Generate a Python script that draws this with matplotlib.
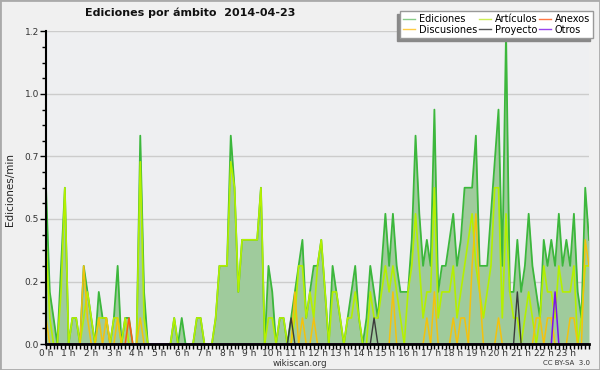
import numpy as np
import matplotlib.pyplot as plt
from matplotlib.ticker import MultipleLocator, FixedLocator

# edits per minute, 10 minute slots from 0:00 to 24:00
ediciones = [0.6, 0.2, 0.1, 0.0, 0.3, 0.6,
             0.0, 0.1, 0.1, 0.0, 0.3, 0.2,
             0.1, 0.0, 0.2, 0.1, 0.1, 0.0,
             0.1, 0.3, 0.0, 0.1, 0.1, 0.0,
             0.0, 0.8, 0.2, 0.0, 0.0, 0.0,
             0.0, 0.0, 0.0, 0.0, 0.1, 0.0,
             0.1, 0.0, 0.0, 0.0, 0.1, 0.1,
             0.0, 0.0, 0.0, 0.1, 0.3, 0.3,
             0.3, 0.8, 0.6, 0.2, 0.4, 0.4,
             0.4, 0.4, 0.4, 0.6, 0.0, 0.3,
             0.2, 0.0, 0.1, 0.1, 0.0, 0.1,
             0.2, 0.3, 0.4, 0.1, 0.2, 0.3,
             0.3, 0.4, 0.2, 0.0, 0.3, 0.2,
             0.1, 0.0, 0.1, 0.2, 0.3, 0.1,
             0.0, 0.1, 0.3, 0.2, 0.1, 0.3,
             0.5, 0.3, 0.5, 0.3, 0.2, 0.2,
             0.2, 0.4, 0.8, 0.5, 0.3, 0.4,
             0.3, 0.9, 0.2, 0.3, 0.3, 0.4,
             0.5, 0.3, 0.4, 0.6, 0.6, 0.6,
             0.8, 0.3, 0.3, 0.3, 0.5, 0.7,
             0.9, 0.3, 1.2, 0.2, 0.2, 0.4,
             0.2, 0.3, 0.5, 0.3, 0.2, 0.1,
             0.4, 0.3, 0.4, 0.3, 0.5, 0.3,
             0.4, 0.3, 0.5, 0.2, 0.1, 0.6,
             0.4]

articulos = [0.4, 0.1, 0.0, 0.0, 0.2, 0.6,
             0.0, 0.1, 0.1, 0.0, 0.1, 0.2,
             0.1, 0.0, 0.1, 0.1, 0.1, 0.0,
             0.1, 0.1, 0.0, 0.1, 0.0, 0.0,
             0.0, 0.7, 0.1, 0.0, 0.0, 0.0,
             0.0, 0.0, 0.0, 0.0, 0.1, 0.0,
             0.0, 0.0, 0.0, 0.0, 0.1, 0.1,
             0.0, 0.0, 0.0, 0.1, 0.3, 0.3,
             0.3, 0.7, 0.6, 0.2, 0.4, 0.4,
             0.4, 0.4, 0.4, 0.6, 0.0, 0.1,
             0.1, 0.0, 0.1, 0.1, 0.0, 0.0,
             0.1, 0.3, 0.3, 0.1, 0.2, 0.1,
             0.3, 0.4, 0.2, 0.0, 0.2, 0.2,
             0.1, 0.0, 0.1, 0.1, 0.2, 0.1,
             0.0, 0.0, 0.2, 0.1, 0.1, 0.2,
             0.3, 0.2, 0.3, 0.2, 0.1, 0.0,
             0.2, 0.3, 0.5, 0.3, 0.1, 0.2,
             0.2, 0.6, 0.1, 0.2, 0.2, 0.2,
             0.3, 0.1, 0.2, 0.3, 0.4, 0.5,
             0.3, 0.2, 0.1, 0.2, 0.3, 0.6,
             0.6, 0.1, 0.5, 0.2, 0.1, 0.1,
             0.0, 0.1, 0.2, 0.1, 0.0, 0.1,
             0.3, 0.2, 0.2, 0.1, 0.3, 0.2,
             0.2, 0.2, 0.3, 0.0, 0.1, 0.3,
             0.3]

discusiones = [0.1, 0.0, 0.0, 0.0, 0.0, 0.0,
               0.0, 0.0, 0.0, 0.0, 0.3, 0.1,
               0.0, 0.0, 0.1, 0.0, 0.1, 0.0,
               0.0, 0.1, 0.0, 0.0, 0.0, 0.0,
               0.0, 0.1, 0.0, 0.0, 0.0, 0.0,
               0.0, 0.0, 0.0, 0.0, 0.0, 0.0,
               0.0, 0.0, 0.0, 0.0, 0.0, 0.0,
               0.0, 0.0, 0.0, 0.0, 0.0, 0.0,
               0.0, 0.0, 0.0, 0.0, 0.0, 0.0,
               0.0, 0.0, 0.0, 0.0, 0.0, 0.0,
               0.0, 0.0, 0.0, 0.0, 0.0, 0.0,
               0.2, 0.0, 0.1, 0.0, 0.0, 0.1,
               0.0, 0.0, 0.0, 0.0, 0.0, 0.0,
               0.0, 0.0, 0.0, 0.0, 0.0, 0.0,
               0.0, 0.0, 0.0, 0.0, 0.0, 0.0,
               0.0, 0.0, 0.2, 0.0, 0.0, 0.0,
               0.0, 0.0, 0.0, 0.0, 0.0, 0.1,
               0.0, 0.2, 0.0, 0.0, 0.0, 0.0,
               0.1, 0.0, 0.1, 0.1, 0.0, 0.3,
               0.5, 0.2, 0.0, 0.0, 0.0, 0.0,
               0.1, 0.0, 0.0, 0.0, 0.0, 0.0,
               0.0, 0.0, 0.0, 0.0, 0.1, 0.1,
               0.0, 0.1, 0.1, 0.0, 0.0, 0.0,
               0.0, 0.1, 0.1, 0.0, 0.0, 0.4,
               0.3]

anexos = [0.0] * 145
anexos[22] = 0.1
proyecto = [0.0] * 145
proyecto[65] = 0.1
proyecto[87] = 0.1
proyecto[125] = 0.2
otros = [0.0] * 145
otros[135] = 0.2

hour_labels = ['%d h' % h for h in range(24)]

x = np.arange(len(ediciones))

fig = plt.figure(figsize=(6, 3.7), dpi=100, facecolor='#f0f0f0')
ax = fig.add_axes([46/600, 26/370, 543/600, 312.5/370])
ax.set_facecolor('#eeeff1')

ax.fill_between(x, ediciones, color='#9fcb9c', lw=0)
ax.plot(x, ediciones, color='#3cb73c', lw=1.3)
ax.plot(x, articulos, color='#b4f000', lw=1.2)
ax.plot(x, discusiones, color='#f4c20c', lw=1.1)
ax.plot(x, anexos, color='#ff5a14', lw=1.1)
ax.plot(x, proyecto, color='#3a3a3a', lw=1.0)
ax.plot(x, otros, color='#7a10f0', lw=1.1)

ax.set_xlim(0, 144)
ax.set_ylim(0, 1.2)
ax.xaxis.set_major_locator(FixedLocator(np.arange(0, 144, 6)))
ax.set_xticklabels(hour_labels)
ax.xaxis.set_minor_locator(MultipleLocator(1))
ax.yaxis.set_major_locator(FixedLocator(np.arange(0, 1.21, 0.24)))
ax.set_yticklabels(['%.1f' % v for v in np.arange(0, 1.21, 0.24)])
ax.yaxis.set_minor_locator(MultipleLocator(0.06))
ax.grid(axis='y', which='major', color='#cccccc', lw=1)
ax.set_axisbelow(True)

for s in ['top', 'right']:
    ax.spines[s].set_visible(False)
ax.spines['left'].set_linewidth(1.5)
ax.spines['bottom'].set_linewidth(2)
ax.tick_params(axis='both', which='both', direction='out', width=1, colors='black',
               labelsize=6.5, labelcolor='#333333', pad=1)
ax.tick_params(axis='x', which='both', length=3.5, pad=0)
ax.tick_params(axis='y', which='major', length=4)
ax.tick_params(axis='y', which='minor', length=3)

fig.text(10/600, 1 - 190/370, 'Ediciones/min', rotation=90, fontsize=7.5,
         va='center', ha='center', color='#222222')
fig.text(85/600, 1 - 13/370, 'Ediciones por ámbito  2014-04-23', fontsize=8,
         fontweight='bold', va='center', ha='left', color='#111111')
fig.text(300/600, 1 - 363/370, 'wikiscan.org', fontsize=6.3, ha='center',
         va='center', color='#333333')
fig.text(590/600, 1 - 363/370, 'CC BY-SA  3.0', fontsize=5, ha='right',
         va='center', color='#333333')

handles = [plt.Line2D([], [], color=c, lw=1) for c in
           ['#88cc88', '#ccee55', '#ff7744', '#ffcc44', '#555555', '#9944ee']]
names = ['Ediciones', 'Artículos', 'Anexos', 'Discusiones', 'Proyecto', 'Otros']
# column-major ordering for ncol=3 with 2 rows
order = [0, 3, 1, 4, 2, 5]
leg = fig.legend([handles[i] for i in order], [names[i] for i in order], ncol=3,
                 loc='upper right', bbox_to_anchor=(593/600, 1 - 11/370),
                 fontsize=7, frameon=True, fancybox=False,
                 shadow={'ox': -2.2, 'oy': -2.2, 'color': '#888888', 'alpha': 1},
                 handlelength=1.2, handletextpad=0.4, columnspacing=0.2,
                 labelspacing=0.1, borderpad=0.3, borderaxespad=0)
leg.get_frame().set_edgecolor('#999999')
leg.get_frame().set_linewidth(1)

fig.patches.append(plt.Rectangle((0, 0), 1, 1, transform=fig.transFigure,
                                 fill=False, edgecolor='#aaaaaa', lw=2))

fig.savefig('out.png', dpi=100, facecolor=fig.get_facecolor())
